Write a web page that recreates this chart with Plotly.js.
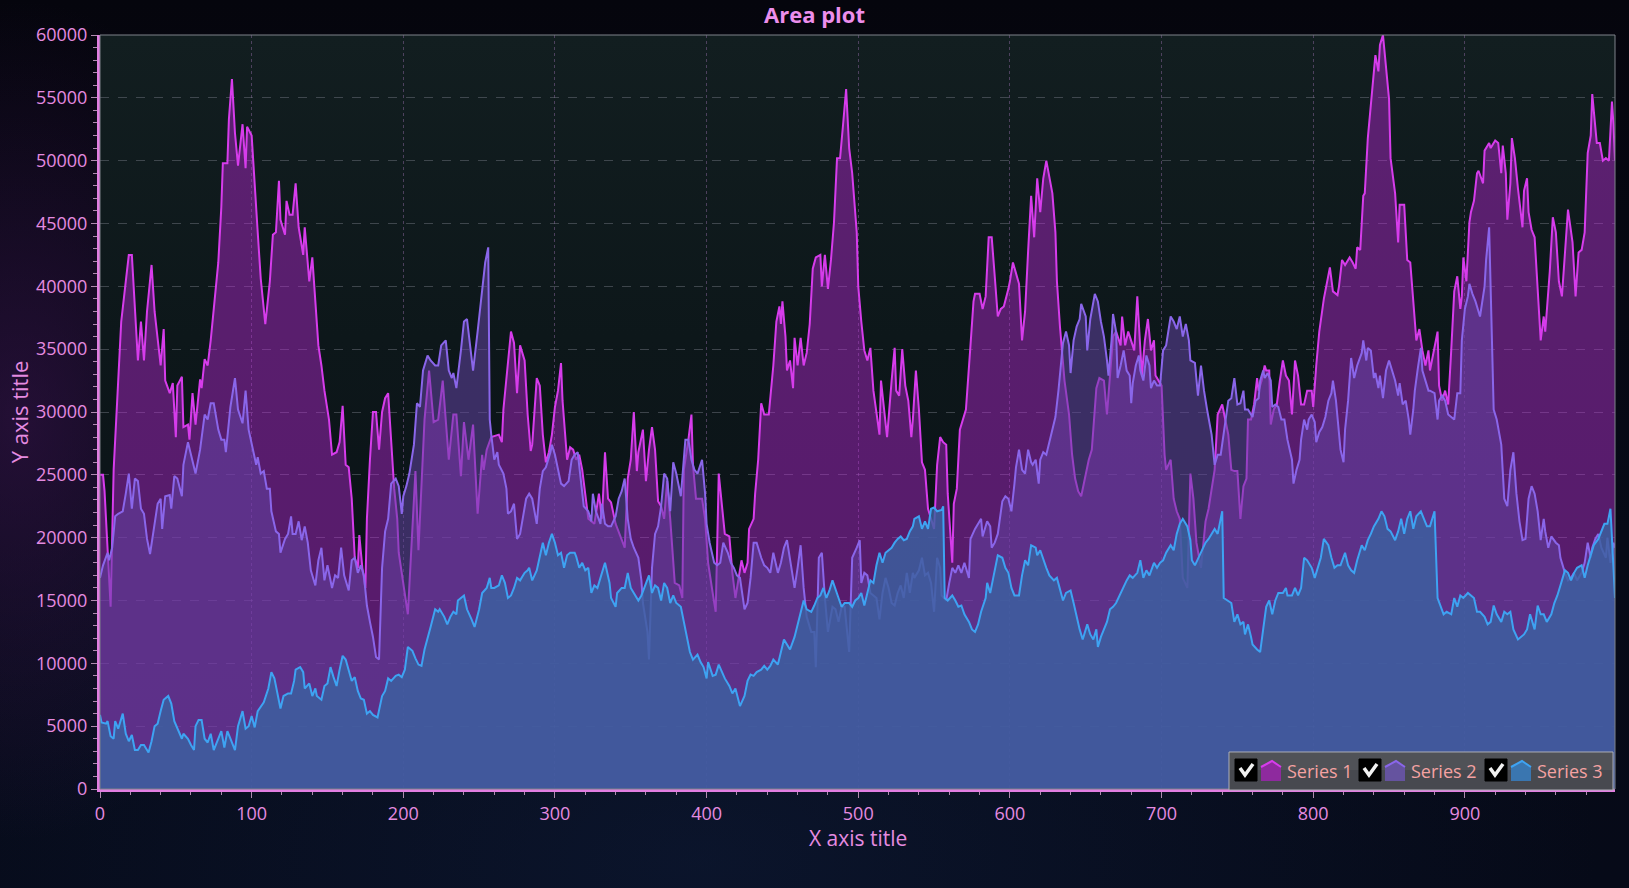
<!DOCTYPE html>
<html>
<head>
<meta charset="utf-8">
<script src="https://cdn.plot.ly/plotly-3.0.1.min.js"></script>
<style>
html,body{margin:0;padding:0;width:1629px;height:888px;overflow:hidden;}
body{background:
 radial-gradient(ellipse 260px 420px at 20px 420px, rgba(60,20,80,0.55), rgba(0,0,0,0)),
 radial-gradient(ellipse 900px 500px at 700px 860px, rgba(20,40,80,0.35), rgba(0,0,0,0)),
 linear-gradient(180deg,#05050d 0%,#070a17 60%,#060a18 100%);}
#plotbg{position:absolute;left:100px;top:35px;width:1515px;height:754px;
 background:linear-gradient(180deg,#121e20 0%,#0d171a 40%,#0a1016 100%);}
#chart{position:absolute;left:0;top:0;width:1629px;height:888px;}
</style>
</head>
<body>
<div id="plotbg"></div>
<div id="chart"></div>
<script>
const seriesNames = ['Series 1','Series 2','Series 3'];
const xTickVals = [0,100,200,300,400,500,600,700,800,900];
const yTickVals = [0,5000,10000,15000,20000,25000,30000,35000,40000,45000,50000,55000,60000];

const s1x = [0,2,3,5,7,9,11,14,17,19,21,23,25,27,29,31,34,36,38,40,42,43,46,48,50,51,54,55,58,59,61,63,66,67,69,71,73,75,78,80,81,84,85,87,89,91,94,96,97,100,102,104,106,109,112,114,116,118,119,122,123,125,127,129,131,134,135,138,140,142,144,146,148,151,153,156,158,160,162,164,166,168,170,171,173,175,176,178,180,182,184,186,188,190,192,194,196,197,203,208,210,214,217,220,223,226,230,233,235,238,240,243,246,249,252,253,255,258,263,265,266,268,271,273,275,277,280,282,284,285,288,290,292,294,296,298,300,302,304,305,308,310,312,314,316,318,320,322,326,329,331,333,335,337,340,344,346,348,350,352,354,355,358,360,362,364,366,368,370,372,374,376,379,382,384,385,388,390,391,393,397,399,401,404,406,408,410,412,415,417,419,421,423,425,427,428,431,432,434,436,438,441,443,444,446,448,449,450,452,453,455,457,458,460,462,464,466,468,470,472,475,476,478,480,482,484,486,488,490,492,494,496,499,500,502,504,506,508,510,511,514,515,517,519,522,524,525,527,529,531,533,535,536,538,540,542,544,546,548,550,552,554,556,558,559,562,563,565,567,569,571,574,576,577,580,582,584,586,588,590,592,594,596,599,600,602,604,606,608,610,612,614,616,618,620,622,624,625,628,630,631,633,636,639,641,643,645,647,650,652,654,657,659,662,664,666,668,670,673,674,676,678,680,682,684,686,687,689,691,693,695,696,698,700,702,703,706,708,710,712,714,717,719,721,723,726,729,731,735,737,740,742,744,746,748,750,752,754,756,757,759,761,763,764,766,768,769,771,772,774,776,778,780,782,784,786,788,790,792,794,796,799,800,802,804,807,809,811,813,816,817,819,821,824,826,828,829,831,833,834,836,839,841,843,844,846,848,850,851,854,856,857,860,862,864,866,868,870,872,874,876,877,880,882,883,885,887,889,891,893,895,897,898,899,901,903,904,906,908,909,912,913,916,917,919,920,922,924,925,927,928,930,931,933,935,938,939,941,942,944,946,948,950,952,953,956,958,960,962,964,966,968,971,973,975,977,979,981,983,984,987,989,991,993,995,997,998,999];
const s1y = [25000,25000,23700,19200,14500,25400,30200,37200,40400,42500,42500,38400,34100,37200,34100,38000,41700,38000,35700,33700,36600,32500,31500,32300,28000,32100,32800,28800,29000,27800,31500,29000,32600,31900,34200,33700,35700,38000,41900,46300,49800,49800,53300,56500,52200,49600,52900,49400,52700,52000,47800,44300,40600,37000,40400,44100,44300,48400,45300,44100,46800,45700,45700,48200,44700,42500,44700,40400,42300,38800,35300,33700,31700,29400,26600,26800,27600,30500,25800,25600,23100,18400,17600,20200,17600,16000,21500,26200,30000,30000,27000,30000,31100,31500,27800,23900,21500,18800,13900,25300,19000,29400,33300,29200,29400,32500,26200,29800,29800,24900,29200,26200,29000,21900,26600,25400,27000,28000,28200,27600,30200,32500,36400,35500,31500,35300,34100,29800,26900,27400,32700,32100,28200,26000,26800,28200,30400,31700,33900,30900,26200,27200,27000,26200,26600,25400,23500,21500,21100,23500,21500,26800,23100,22800,21100,19900,19200,24700,26200,30000,25300,26800,28600,24500,27000,28800,27000,22900,22500,21500,24500,21500,16400,16200,15200,25400,27800,29800,25800,23100,23100,21500,18000,15600,14100,25100,22700,20300,20100,17200,15200,16800,18200,17200,18000,20700,21500,23500,26200,30700,29800,29800,32100,33700,37200,38400,37000,38800,36000,33300,34100,31900,35900,33700,35900,33700,34700,37000,41400,42300,42500,40000,42500,39800,42100,45100,50200,50200,52900,55700,51000,49000,44300,40000,37200,34900,34100,35100,31700,30900,28200,32500,30200,28000,32500,35100,31700,31300,35000,32100,30900,28000,29400,33300,30200,26000,25400,22300,21500,20700,25800,28000,27600,27400,23500,18000,22700,23900,28600,29400,30200,35300,38800,39400,39400,38200,39200,43900,43900,40800,37600,38200,38400,39800,40400,41900,41000,40200,35700,38000,42800,47200,43900,48600,45900,48600,50000,49400,47400,44300,40400,36800,32500,29800,26600,24700,23700,23300,25100,26200,27000,31900,32700,32500,29800,33300,36000,36400,35300,37600,35300,36400,35700,34900,39200,34900,32900,35700,37400,34900,35700,32900,32500,32100,26600,25400,26200,23100,22100,21500,16800,16000,25100,23100,19600,17600,21300,22300,25400,29800,30600,29400,28200,25400,25300,25300,21500,24100,24700,29400,29400,30600,32700,31700,32500,33700,33300,33300,29000,30200,30600,32500,34100,32900,32500,29800,34100,32900,30600,30600,31700,31700,30400,33700,36400,39000,40400,41500,39600,39300,40000,42100,41700,42300,41900,41400,43100,42900,47200,47400,51800,55700,58400,57100,59200,60000,57600,54900,50200,47400,43500,46500,46500,42100,41900,38800,35700,36600,34900,33700,34900,33300,35300,36400,32100,30900,31700,30600,34900,39600,40800,38200,39200,42300,40400,45100,45900,46800,49000,49200,48200,50800,51400,51000,51400,51600,51400,49000,51200,49000,45300,48200,51800,50200,47800,44700,47600,48600,45900,44500,43900,40000,35700,37600,36400,41200,45500,44300,40400,39200,43100,46100,43500,39200,42700,42900,44300,50600,52000,55300,51400,51400,50000,50200,50000,54700,52900,50000];

const s2x = [0,2,5,6,8,10,12,15,17,19,21,23,25,27,29,31,33,36,38,40,41,43,46,47,49,51,54,55,58,60,63,66,69,71,73,75,78,80,82,83,86,89,91,94,96,98,101,103,104,106,108,110,112,113,116,118,119,122,124,126,127,129,131,133,135,137,139,142,144,146,148,150,153,155,157,159,161,164,166,168,170,172,174,176,178,180,182,184,186,188,190,192,195,197,199,200,202,204,207,209,211,213,216,218,221,223,225,228,230,232,233,235,238,240,242,244,246,249,251,253,254,256,257,258,260,262,263,266,268,269,271,273,275,277,280,281,283,285,288,290,292,294,297,298,300,302,304,306,309,311,313,315,317,319,322,324,325,327,330,331,333,335,337,340,342,344,346,348,350,352,355,357,358,361,362,364,366,368,370,372,374,376,378,380,383,385,386,388,390,392,394,397,399,400,402,405,407,409,411,414,416,418,420,422,425,427,429,431,433,436,438,440,442,444,447,449,451,453,455,458,460,462,464,466,469,471,472,474,476,478,480,483,485,487,489,491,494,496,499,501,502,504,506,508,512,514,516,518,520,522,524,526,528,530,532,534,536,537,540,542,544,546,548,550,552,554,555,558,560,562,564,566,568,570,573,574,577,579,581,582,585,587,588,590,592,595,597,599,601,603,604,606,608,610,612,614,615,617,619,620,622,624,626,628,630,632,634,635,637,639,640,642,644,646,647,650,651,653,656,658,660,662,664,665,667,668,670,671,673,675,677,679,680,681,683,685,686,688,690,692,693,695,697,699,701,703,706,708,710,712,714,716,718,719,722,724,726,728,730,733,735,737,739,741,744,746,748,750,752,754,755,757,759,760,762,764,765,767,768,770,772,773,775,777,779,781,783,786,787,789,791,792,794,796,797,799,801,802,804,806,808,810,812,813,815,817,818,820,821,823,825,827,829,832,833,835,836,838,840,841,843,844,846,848,850,852,854,856,857,859,861,863,864,866,867,869,871,872,874,876,877,880,882,883,885,887,889,891,893,895,897,898,900,902,903,905,907,909,910,913,914,916,918,919,921,924,926,928,930,932,934,936,938,940,942,944,946,948,950,952,953,955,957,960,962,963,966,968,970,972,974,977,979,981,983,984,986,988,990,993,994,996,998,999];
const s2y = [16800,17800,18800,18200,19200,21700,21900,22100,23500,25100,22300,24700,24500,22300,21900,19900,18700,21100,22700,23100,20700,23300,23400,22300,24900,24700,23300,25800,27600,26600,25100,27000,29800,29400,30700,30700,28600,27800,27800,26800,30400,32700,30200,29100,31700,28600,27000,25800,26400,25100,25300,23900,23900,22100,20500,20300,18800,19900,20300,21700,20300,20300,21300,19800,20900,19600,17400,16200,18200,19200,16600,17800,16000,17000,16800,19200,17000,15800,18200,18400,17200,17800,17000,14600,13300,12100,10500,10300,17600,20500,21500,24300,24700,24100,21900,23300,24100,25100,27400,30700,30400,33300,34500,34100,33700,33700,35300,35700,33300,32700,33100,31900,34900,37200,37400,35300,33300,36400,38500,41000,41900,43100,29400,28200,26200,26800,25800,25100,23900,21900,22100,22700,19900,20300,22300,23100,23500,23100,21100,23900,25300,25600,26800,27400,26600,25400,24300,24100,24500,26200,26600,26800,24500,22500,22100,21300,23500,22100,21100,22700,21100,20900,20900,21700,23100,23700,24700,21500,19900,19200,18400,16600,14800,12500,10300,17600,20300,20900,22500,25100,24700,22100,26000,25100,23300,26200,27800,27800,26200,25400,25100,26200,23500,21100,19600,18000,17800,18000,19600,18800,18000,17600,17000,16800,14300,14800,16800,19600,19600,18400,17800,17600,17200,18800,17200,18000,19200,19800,18400,16000,17600,19400,16000,13700,12500,12500,9700,18400,18800,15200,12500,14500,14300,13300,14500,14500,10900,18400,19200,19800,16400,17200,17000,15600,15200,13500,15600,16800,16000,14800,14600,15600,16200,15200,17200,15600,17200,16800,17400,18400,17000,17200,16400,14100,18400,17600,15400,15000,16400,17600,17200,17800,17200,18000,16800,19900,20700,21100,21500,20100,21300,20900,19200,19600,20300,22900,23300,23100,22100,24300,25600,27000,25400,25100,27000,26000,25800,26200,24300,26200,26800,26600,27600,28600,29600,31700,34100,35500,36400,35300,33100,35700,36800,37400,38600,37600,34900,37400,39400,38800,37200,36000,34100,32900,35700,37800,36400,32700,33700,34900,33300,32900,30700,32300,33700,34500,33300,32500,34500,33700,31900,32500,32100,32100,34900,35300,37600,37200,36600,37600,36000,37000,35700,34100,33900,31300,33700,31700,30200,28200,25800,26600,26600,28200,30900,31100,32700,30600,30700,31700,30200,30200,29800,29600,30900,31100,32500,33300,32700,33100,32500,30400,30600,30400,29400,29400,27800,26200,24300,25400,26200,27800,29400,28600,29400,29800,29200,27600,28400,28800,29600,30900,31500,32500,30900,28600,27000,26000,28600,30900,34300,32700,33700,34700,35700,34100,35100,34900,32700,33100,31900,32900,31100,33300,34100,33300,32500,31300,32300,30600,30900,29400,28200,30200,31700,33500,35100,33300,32500,31700,31700,31500,29400,30900,31300,30900,29800,29600,29400,31500,31500,35700,38200,39200,40200,39400,38800,38000,37600,40000,42100,44700,33300,30200,29400,27400,23100,22500,25400,26800,23500,21300,19800,19900,23100,24100,23500,22100,19800,21500,20500,19200,20100,19600,19400,18400,17200,16600,16800,17200,16600,17200,18000,19600,18400,19200,19900,20300,19200,18400,20000,18000,19600,19200];

const s3x = [0,1,4,5,7,9,10,12,15,17,19,21,23,25,27,29,32,34,36,38,40,42,45,47,49,51,54,55,58,60,62,63,65,67,69,71,73,75,78,80,82,84,86,89,91,94,96,98,100,102,104,106,108,111,113,115,117,119,121,124,126,128,129,132,134,135,138,140,142,143,146,148,150,152,154,156,158,160,162,164,166,168,170,172,174,176,178,180,183,186,188,190,192,195,197,199,201,203,206,208,210,212,214,218,221,223,224,227,229,231,233,235,236,240,242,245,247,250,252,255,257,258,260,263,265,267,269,271,273,275,277,280,282,283,285,288,290,292,294,296,298,300,302,304,306,308,310,313,314,316,318,320,322,324,326,328,330,333,336,337,340,341,344,346,348,350,352,355,357,359,362,364,366,368,370,372,374,376,378,380,383,385,387,389,391,394,396,398,400,401,404,406,408,410,412,415,417,419,421,422,425,427,429,431,433,436,438,440,442,444,447,449,451,453,455,458,460,462,464,466,469,471,473,475,477,479,481,483,485,487,489,491,494,496,498,500,502,504,506,508,510,512,514,516,518,520,522,524,526,528,530,532,534,536,537,540,542,544,546,548,550,552,555,556,557,559,562,564,566,568,570,573,575,577,579,581,584,585,587,589,592,595,597,599,601,603,606,608,610,612,614,617,618,620,622,624,626,629,631,633,635,637,640,642,644,646,648,651,653,655,657,658,660,663,664,666,668,670,673,675,677,679,681,684,686,688,690,692,695,697,699,701,703,706,708,710,712,714,717,719,720,722,725,727,729,731,733,735,737,740,741,744,746,748,750,752,754,755,757,759,760,763,765,767,769,771,773,775,777,780,782,783,786,788,790,792,794,796,799,801,803,805,807,810,812,814,816,818,821,823,825,827,829,832,834,836,838,840,843,845,847,849,851,854,856,858,860,862,864,866,868,871,873,875,877,880,882,884,886,888,891,893,895,897,899,902,904,906,908,910,913,915,917,919,921,924,926,928,930,932,935,937,939,941,943,946,948,950,952,954,957,959,961,963,966,968,970,972,974,977,979,981,983,985,988,990,992,994,996,998,999];
const s3y = [5900,5300,5200,5400,4200,4000,5400,4800,6000,4400,3800,4300,3100,3100,3500,3500,2900,3800,5000,5200,6200,7100,7400,6800,5400,4800,4000,4400,4000,3500,3100,5000,5500,5500,4000,3700,4400,3100,4000,4600,3300,4600,4000,3100,5000,6200,4800,5000,5800,4900,6200,6600,6900,8000,9300,8800,7600,6400,7400,7600,7600,8600,9500,9700,9300,8000,8400,7400,8000,7400,7100,8200,8400,9700,8900,8200,9500,10600,10300,9500,8600,8900,7800,7200,7100,6000,6200,5900,5700,7400,7800,8800,8600,9000,9100,8900,9500,11300,11000,10400,9900,9800,11100,12900,14300,14100,14300,13700,13100,13700,14100,13900,15000,15400,14300,13500,12900,14300,15600,16000,16800,16000,16000,16200,17000,16400,15200,15400,16000,16800,16600,17200,17400,17600,16600,17400,18600,19600,18600,19600,20300,19600,18600,18800,17600,18600,18800,18800,18500,17600,18000,17400,17600,15600,16200,16000,16800,18000,16400,15200,14500,15600,16000,16000,17200,16000,15600,15000,15400,16000,17000,15600,16200,16000,15000,16400,16000,14800,15400,14800,14500,13300,12100,10900,10300,10700,10100,9700,8800,10100,9000,9100,9900,9300,8800,8200,7600,8000,7000,6600,7400,8600,9100,9000,9300,9500,9800,9500,9800,10300,9900,10900,11900,11500,11100,12100,13100,14100,15000,14300,14100,14600,15200,15400,16000,15200,15800,16600,15800,15200,14500,14800,14800,14500,15000,15200,15600,14600,15600,16600,16400,17800,18800,18000,18800,19000,19200,19600,19900,20100,19800,19900,20500,20900,21500,21700,20700,21300,20700,22300,22400,22100,22200,22500,15200,15000,15400,15000,14500,14600,13900,13300,12700,12500,13100,14100,15200,16400,15600,16800,18600,18400,17600,17200,16000,15400,15400,17000,18200,17800,19400,19200,18600,19000,18200,17600,17000,16600,16800,16000,15000,15600,15800,14800,13700,12700,11900,13100,12300,11900,12700,11300,12100,13100,13300,14300,14500,14800,15600,16200,16600,17000,16800,17200,18200,16800,17400,17000,18000,17600,18000,18200,18800,19400,19000,20300,21100,21500,20900,19800,18200,17800,18600,19000,19600,19900,20300,20700,20300,22100,15200,15000,14800,13300,13900,13100,13300,12300,13100,12100,11500,11100,10900,12700,14500,15000,13900,15000,15600,15600,16000,15400,15400,16000,15400,16000,18400,18200,17600,16800,17600,18400,19900,19400,18400,17600,17800,17800,18800,17800,17400,17200,18200,19400,19000,19800,20300,20900,21500,22100,21700,20700,20500,19800,20500,21500,20300,21500,22100,20700,21700,22100,21500,20900,20900,22100,15200,14600,13900,14100,13900,15200,14500,15400,15200,15600,15400,15200,14100,14100,13700,13100,13300,14600,13900,13300,14100,13900,14100,12700,11900,12100,12300,12700,13900,12700,14600,13900,13900,13300,13900,14800,15400,16200,17400,17200,16600,17200,17600,17800,16800,17800,18600,19400,19900,20500,21100,21100,22300,17600,15200];

const font = "'Open Sans', 'Noto Sans', 'DejaVu Sans', sans-serif";
const pink = '#e58be0';

const traces = [
  {x:s1x, y:s1y, name:seriesNames[0], type:'scatter', mode:'lines', fill:'tozeroy',
   fillcolor:'rgba(190,40,220,0.43)', line:{color:'#d63ceb', width:2}},
  {x:s2x, y:s2y, name:seriesNames[1], type:'scatter', mode:'lines', fill:'tozeroy',
   fillcolor:'rgba(99,67,163,0.55)', line:{color:'#8a66ea', width:2}},
  {x:s3x, y:s3y, name:seriesNames[2], type:'scatter', mode:'lines', fill:'tozeroy',
   fillcolor:'rgba(58,98,160,0.82)', line:{color:'#3ea3f2', width:2}}
];

// pixel -> paper helpers for legend decoration (plot area 100..1615 x 35..789)
const PL=100, PW=1515, PB=789, PH=754;
const px = v => (v-PL)/PW;
const py = v => (PB-v)/PH;

const shapes = [
  {type:'rect', xref:'paper', yref:'paper', x0:0, x1:1, y0:0, y1:1,
   line:{color:'#7e828a', width:1}, fillcolor:'rgba(0,0,0,0)', layer:'above'},
  {type:'rect', xref:'paper', yref:'paper', x0:px(1229), x1:px(1613), y0:py(790), y1:py(752),
   line:{color:'#b0b1b8', width:1}, fillcolor:'#47494f', layer:'above'},
  {type:'rect', xref:'paper', yref:'paper', x0:px(1230), x1:px(1612), y0:py(770), y1:py(753),
   line:{width:0}, fillcolor:'rgba(255,255,255,0.05)', layer:'above'}
];
const annotations = [];
const boxX = [1235, 1359, 1485];
const iconFill = ['#8e2a9e', '#65539f', '#3a76b0'];
const iconEdge = ['#d63ceb', '#8a66ea', '#3ea3f2'];
boxX.forEach((bx,i)=>{
  shapes.push({type:'rect', xref:'paper', yref:'paper', x0:px(bx), x1:px(bx+22), y0:py(781), y1:py(759),
    line:{color:'#000', width:1}, fillcolor:'#000', layer:'above'});
  shapes.push({type:'path', xref:'paper', yref:'paper',
    path:`M ${px(bx+5)} ${py(768)} L ${px(bx+10)} ${py(775)} L ${px(bx+18)} ${py(764)}`,
    line:{color:'#f2f2f2', width:3.5}, layer:'above'});
  const ix = bx+26;
  shapes.push({type:'path', xref:'paper', yref:'paper',
    path:`M ${px(ix)} ${py(781)} L ${px(ix)} ${py(767)} L ${px(ix+11)} ${py(761)} L ${px(ix+20)} ${py(767)} L ${px(ix+20)} ${py(781)} Z`,
    line:{color:iconFill[i], width:0}, fillcolor:iconFill[i], layer:'above'});
  shapes.push({type:'path', xref:'paper', yref:'paper',
    path:`M ${px(ix)} ${py(767)} L ${px(ix+11)} ${py(761)} L ${px(ix+20)} ${py(767)}`,
    line:{color:iconEdge[i], width:2}, layer:'above'});
  annotations.push({xref:'paper', yref:'paper', x:px(ix+24), y:py(771), xanchor:'left', yanchor:'middle',
    text:seriesNames[i], showarrow:false, font:{family:font, size:18, color:'#f4a2a2'}});
});
// x axis title placed just under the tick labels
annotations.push({xref:'paper', yref:'paper', x:0.5, y:py(838), xanchor:'center', yanchor:'middle',
  text:'X axis title', showarrow:false, font:{family:font, size:21, color:pink}});

const layout = {
  width:1629, height:888,
  margin:{l:100, r:14, t:35, b:99},
  paper_bgcolor:'rgba(0,0,0,0)', plot_bgcolor:'rgba(0,0,0,0)',
  showlegend:false,
  title:{text:'<b>Area plot</b>', font:{family:font, size:22, color:'#ec8eec'},
    x:0.5, xref:'container', xanchor:'center', y:1-15/888, yref:'container', yanchor:'middle'},
  xaxis:{range:[0,999], tickvals:xTickVals, ticktext:xTickVals.map(String),
    ticks:'outside', ticklen:6, tickwidth:1, tickcolor:'#b08ab0',
    tickfont:{family:font, size:18, color:pink},
    showline:true, linecolor:'#e27ee2', linewidth:3,
    showgrid:true, gridcolor:'rgba(150,110,170,0.45)', griddash:'dot', gridwidth:1,
    zeroline:false,
    minor:{dtick:20, ticks:'outside', ticklen:3, tickcolor:'#b08ab0', showgrid:false},
    automargin:false},
  yaxis:{range:[0,60000], tickvals:yTickVals, ticktext:yTickVals.map(String),
    ticks:'outside', ticklen:6, tickwidth:1, tickcolor:'#b08ab0',
    tickfont:{family:font, size:18, color:pink},
    showline:true, linecolor:'#e27ee2', linewidth:3,
    showgrid:true, gridcolor:'rgba(120,125,135,0.45)', griddash:'dash', gridwidth:1,
    zeroline:false,
    minor:{dtick:1000, ticks:'outside', ticklen:4, tickcolor:'#b08ab0', showgrid:false},
    title:{text:'Y axis title', font:{family:font, size:22, color:pink}, standoff:2},
    automargin:false},
  shapes:shapes,
  annotations:annotations
};

Plotly.newPlot('chart', traces, layout, {displayModeBar:false, staticPlot:true});
</script>
</body>
</html>
